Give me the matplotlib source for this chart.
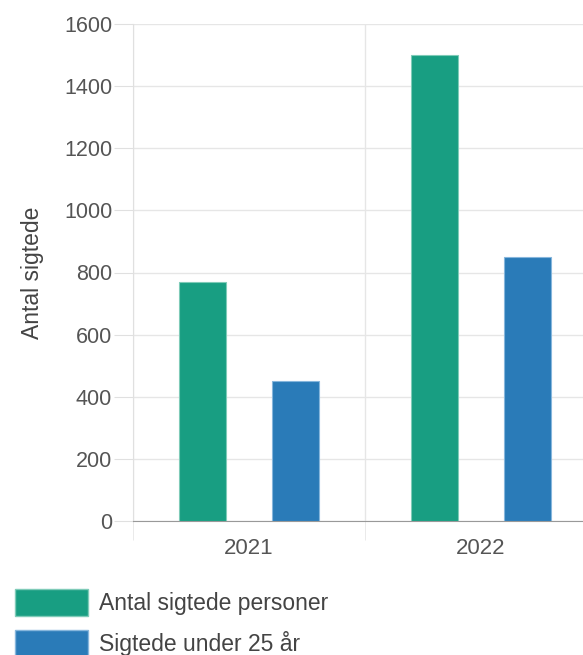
import numpy as np
import matplotlib.pyplot as plt
from matplotlib.patches import Patch

plt.rcParams['font.family'] = ['Liberation Sans', 'DejaVu Sans']

# data
years = ["2021", "2022"]
series_names = ["Antal sigtede personer", "Sigtede under 25 år"]
antal_sigtede = [770, 1500]
under_25 = [450, 850]
colors = ["#189e82", "#2a7bb8"]
edges = ["#7fcbb8", "#86b6dc"]

fs = 16

fig = plt.figure(figsize=(5.83, 6.55), dpi=100)
# plot area runs past the right edge of the figure, as in the original
ax = fig.add_axes([133 / 583, 1 - 521 / 655, 464 / 583, (521 - 24) / 655])

x = np.arange(len(years))
w = 0.2
ax.bar(x - 0.2, antal_sigtede, w, color=colors[0], edgecolor=edges[0], linewidth=0.8, zorder=3)
ax.bar(x + 0.2, under_25, w, color=colors[1], edgecolor=edges[1], linewidth=0.8, zorder=3)

ax.set_xlim(-0.5, 1.5)
ax.set_ylim(0, 1600)
ax.set_yticks(range(0, 1601, 200))
ax.set_xticks(x)
ax.set_xticklabels(years)
ax.set_xticks([-0.5, 0.5, 1.5], minor=True)

ax.grid(axis="y", color="#e6e6e6", linewidth=1, zorder=0)
ax.grid(axis="x", which="minor", color="#e6e6e6", linewidth=1, zorder=0)
ax.tick_params(axis="y", length=14, color="#e0e0e0", labelcolor="#555555", labelsize=15.5, pad=1)
ax.tick_params(axis="x", which="major", length=0, labelcolor="#555555", labelsize=fs, pad=12)
ax.tick_params(axis="x", which="minor", length=14, color="#e6e6e6")

for s in ["top", "right"]:
    ax.spines[s].set_visible(False)
ax.spines["left"].set_color("#e0e0e0")
ax.spines["bottom"].set_color("#999999")

ax.set_ylabel("Antal sigtede", fontsize=16.5, color="#444444")
ax.yaxis.set_label_coords(-0.192, 0.5)

handles = [Patch(facecolor=colors[i], edgecolor=edges[i], label=series_names[i]) for i in range(2)]
fig.legend(handles=handles, loc="upper left", bbox_to_anchor=(15 / 583, 1 - 589 / 655),
           frameon=False, fontsize=16.5, handlelength=3.2, handleheight=1.45,
           labelspacing=0.6, handletextpad=0.45, borderaxespad=0, borderpad=0,
           labelcolor="#444444")

fig.savefig("out.png", dpi=100)
